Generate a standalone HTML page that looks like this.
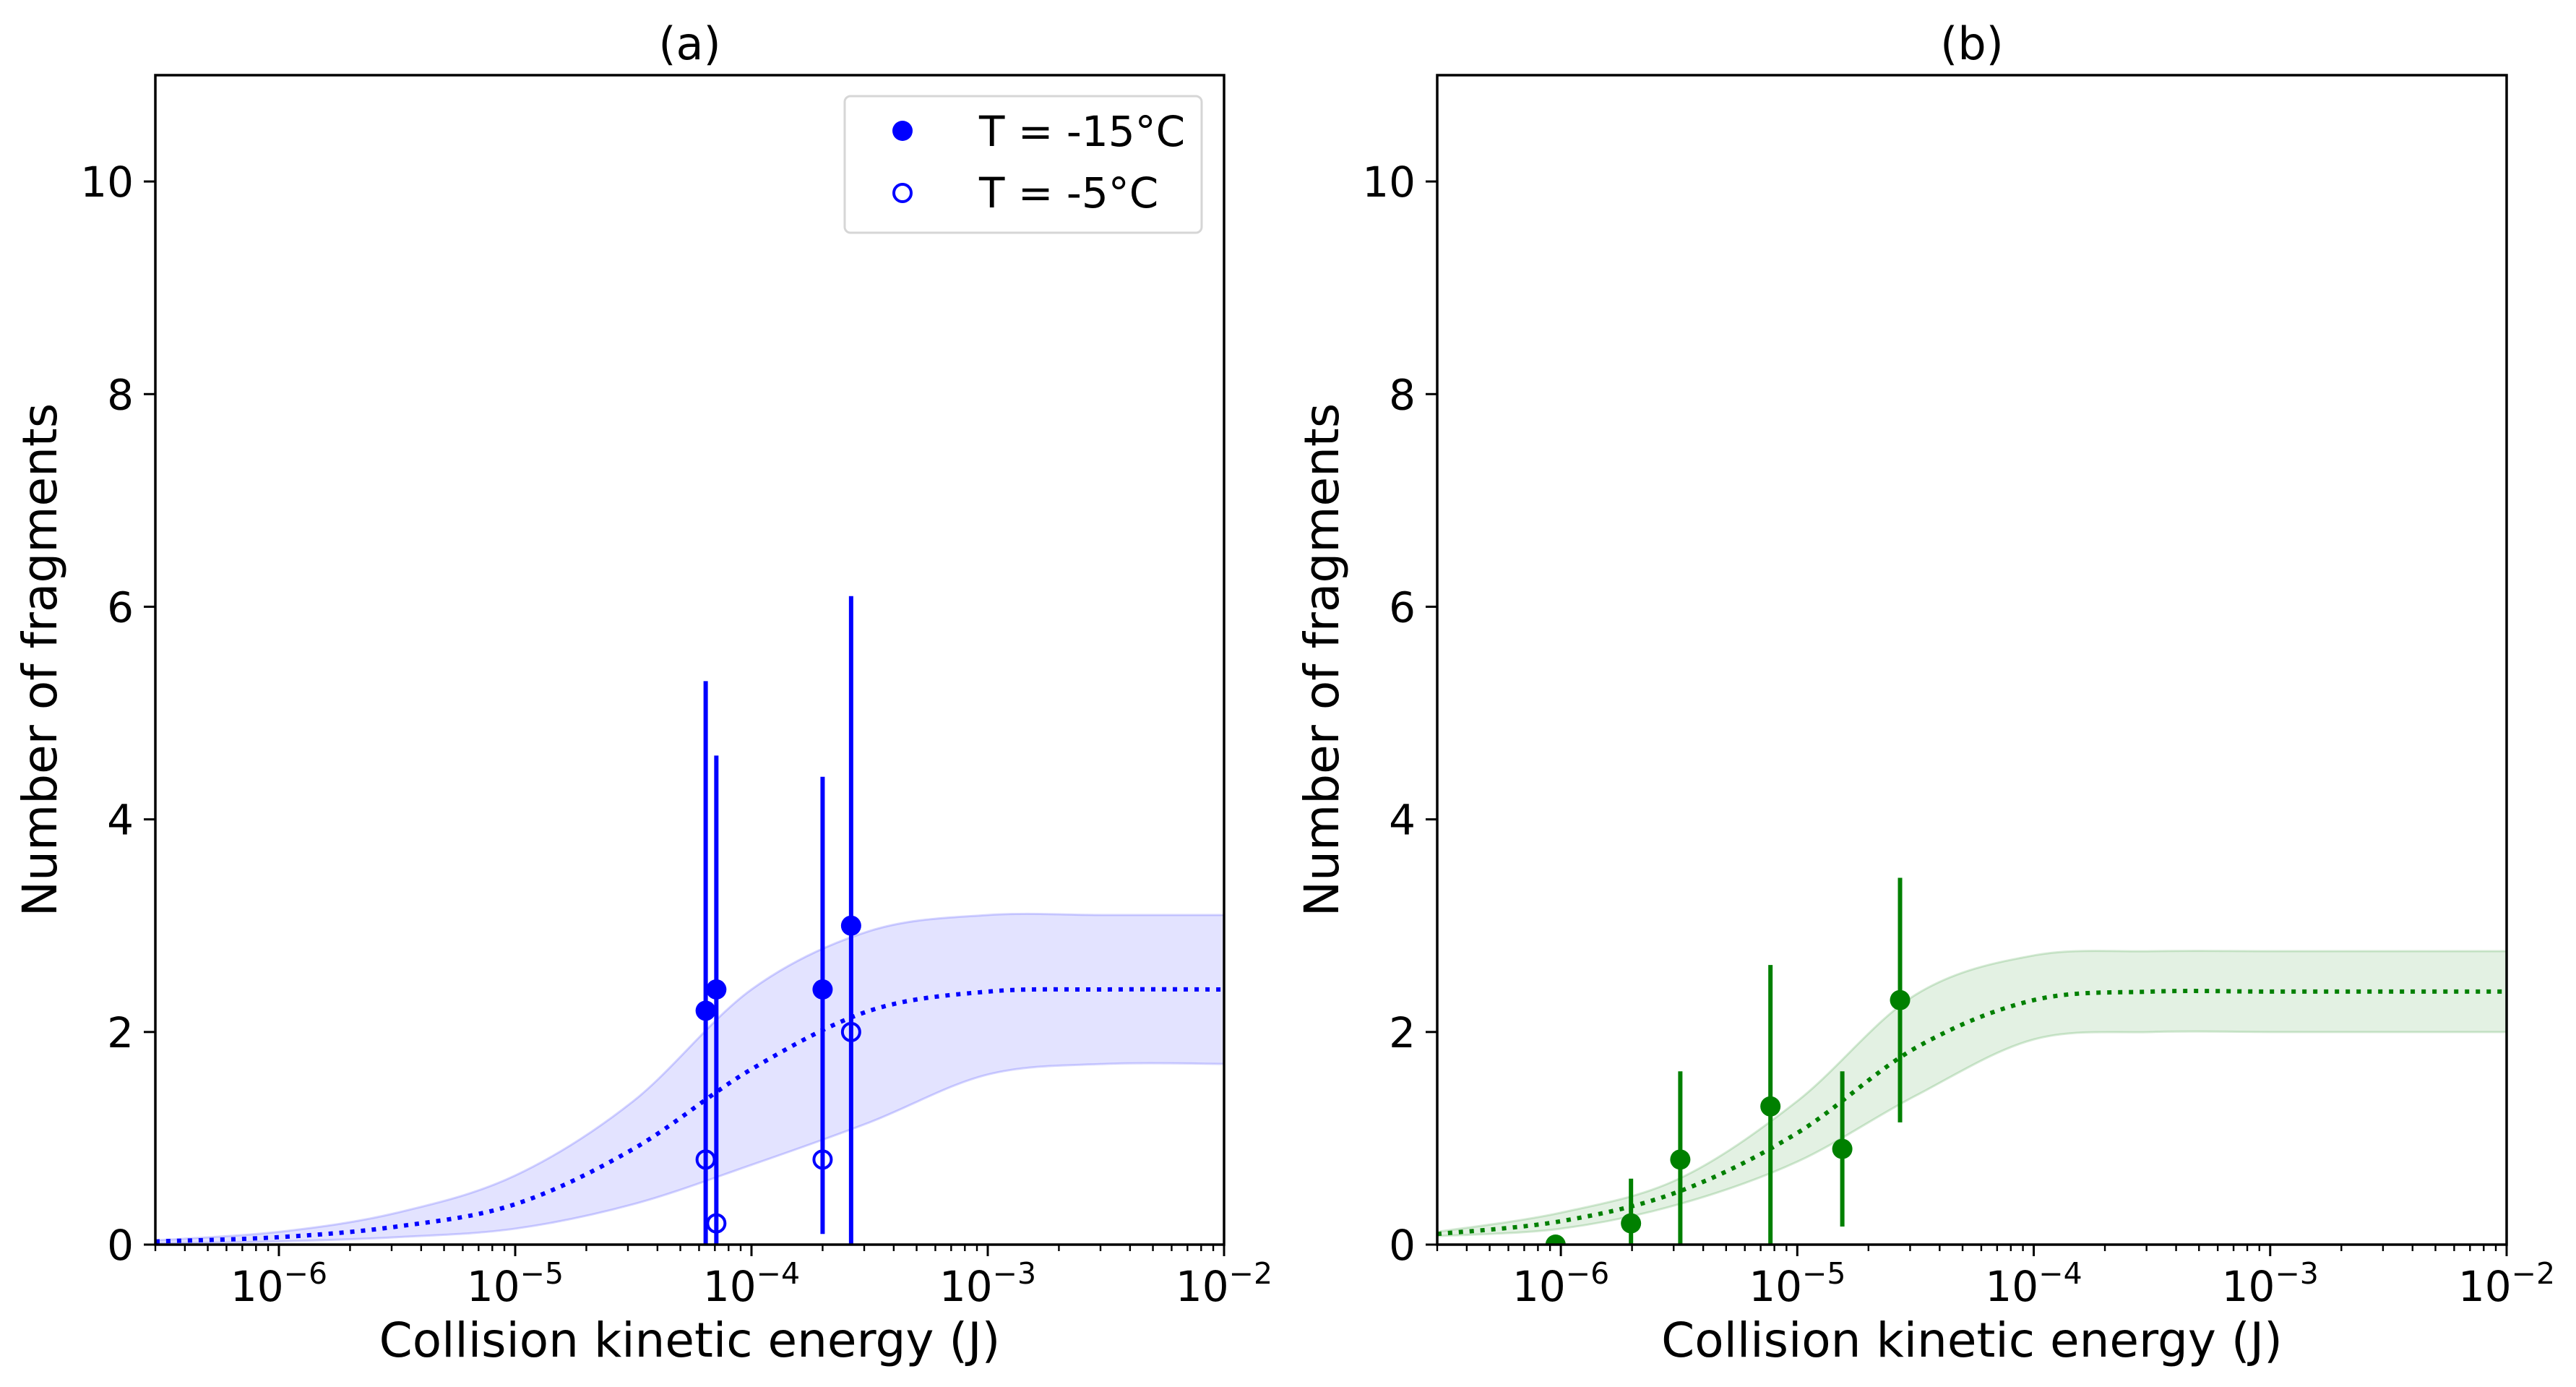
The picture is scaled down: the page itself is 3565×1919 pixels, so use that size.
<!DOCTYPE html>
<html><head><meta charset="utf-8"><style>
html,body{margin:0;padding:0;background:#fff;}
svg{display:block;font-family:"DejaVu Sans","Liberation Sans",sans-serif;}
</style></head><body>
<svg id="chart" width="3565" height="1919" viewBox="0 0 3565 1919" xmlns="http://www.w3.org/2000/svg"></svg>
<script>
// ---- data ----
const curveLogX = [-6.523,-6,-5.5,-5,-4.5,-4,-3.5,-3,-2.5,-2];
const meanA  = [0.03,0.07,0.17,0.38,0.9,1.65,2.2,2.38,2.4,2.4];
const upperA = [0.04,0.12,0.3,0.65,1.35,2.4,2.95,3.1,3.1,3.1];
const lowerA = [0.01,0.03,0.07,0.15,0.38,0.75,1.15,1.6,1.7,1.7];
const meanB  = [0.1,0.22,0.5,1.05,1.85,2.3,2.38,2.38,2.38,2.38];
const upperB = [0.12,0.3,0.62,1.35,2.35,2.72,2.76,2.76,2.76,2.76];
const lowerB = [0.08,0.15,0.38,0.78,1.4,1.93,2.0,2.0,2.0,2.0];

const coldX   = [6.4e-5,7.1e-5,2.0e-4,2.64e-4];
const coldY   = [2.2,2.4,2.4,3.0];
const coldLo  = [0,0,0.1,0];
const coldHi  = [5.3,4.6,4.4,6.1];
const warmX   = [6.4e-5,7.1e-5,2.0e-4,2.64e-4];
const warmY   = [0.8,0.2,0.8,2.0];

const bX  = [0.95e-6,1.98e-6,3.2e-6,7.7e-6,1.55e-5,2.72e-5];
const bY  = [0,0.2,0.8,1.3,0.9,2.3];
const bLo = [0,0,0,0,0.17,1.15];
const bHi = [0,0.62,1.63,2.63,1.63,3.45];

const yTicks = [0,2,4,6,8,10];
const xTickExp = [-6,-5,-4,-3,-2];

// ---- drawing ----
const NS="http://www.w3.org/2000/svg";
const svg=document.getElementById('chart');
function mk(tag,attrs,parent){const e=document.createElementNS(NS,tag);for(const k in attrs)e.setAttribute(k,attrs[k]);(parent||svg).appendChild(e);return e;}
const XMIN=Math.log10(3e-7), XMAX=-2, YMIN=0, YMAX=11;
const TOP=104, BOT=1722;

function spline(pts){
  let d=`M${pts[0][0]},${pts[0][1]}`;
  for(let i=0;i<pts.length-1;i++){
    const p0=pts[i-1]||pts[i],p1=pts[i],p2=pts[i+1],p3=pts[i+2]||p2;
    const c1=[p1[0]+(p2[0]-p0[0])/6,p1[1]+(p2[1]-p0[1])/6];
    const c2=[p2[0]-(p3[0]-p1[0])/6,p2[1]-(p3[1]-p1[1])/6];
    d+=` C${c1[0]},${c1[1]} ${c2[0]},${c2[1]} ${p2[0]},${p2[1]}`;
  }
  return d;
}

function panel(L,R,title,color,fillColor,fillOp,mean,upper,lower,key){
  const g=mk('g',{});
  
  
  const sx=lx=>L+(lx-XMIN)/(XMAX-XMIN)*(R-L);
  const sy=v=>BOT-(v-YMIN)/(YMAX-YMIN)*(BOT-TOP);
  const clip=mk('clipPath',{id:'clip'+key},g);
  mk('rect',{x:L,y:TOP,width:R-L,height:BOT-TOP},clip);
  const plot=mk('g',{'clip-path':`url(#clip${key})`},g);
  const up=curveLogX.map((lx,i)=>[sx(lx),sy(upper[i])]);
  const lo=curveLogX.map((lx,i)=>[sx(lx),sy(lower[i])]).reverse();
  let d=spline(up)+' L'+lo[0][0]+','+lo[0][1]+spline(lo).replace(/^M[^ C]+/,'')+' Z';
  const band=mk('path',{d:d,fill:fillColor,'fill-opacity':fillOp,stroke:fillColor,'stroke-opacity':fillOp*1.5,'stroke-width':3},plot);
  
  
  const mp=mk('path',{d:spline(curveLogX.map((lx,i)=>[sx(lx),sy(mean[i])])),fill:'none',stroke:color,'stroke-width':6,'stroke-dasharray':'6 9'},plot);
  
  
  const fr=mk('rect',{x:L,y:TOP,width:R-L,height:BOT-TOP,fill:'none',stroke:'#000','stroke-width':3.5},g);
  
  
  yTicks.forEach(v=>{
    const y=sy(v);
    mk('line',{x1:L-16,x2:L,y1:y,y2:y,stroke:'#000','stroke-width':3},g);
    const t=mk('text',{x:L-30,y:y+21,'text-anchor':'end','font-size':58},g);
    t.textContent=v;
    
    
  });
  for(let e=-7;e<=-2;e++){
    for(let m=1;m<10;m++){
      const lx=e+Math.log10(m);
      if(lx<XMIN-1e-9||lx>XMAX+1e-9)continue;
      const x=sx(lx);
      mk('line',{x1:x,x2:x,y1:BOT,y2:BOT+(m===1?16:9),stroke:'#000','stroke-width':m===1?3:2.4},g);
    }
  }
  xTickExp.forEach(e=>{
    const t=mk('text',{x:sx(e),y:1800,'text-anchor':'middle','font-size':58},g);
    
    
    t.appendChild(document.createTextNode('10'));
    const s=mk('tspan',{dy:-24,'font-size':41},t);
    s.textContent='\u2212'+(-e);
  });
  const xl=mk('text',{x:(L+R)/2,y:1877,'text-anchor':'middle','font-size':66},g);
  xl.textContent='Collision kinetic energy (J)';
  
  
  const yl=mk('text',{x:0,y:0,'text-anchor':'middle','font-size':66,transform:`translate(${L-137},${(TOP+BOT)/2}) rotate(-90)`},g);
  yl.textContent='Number of fragments';
  
  
  const tt=mk('text',{x:(L+R)/2,y:82,'text-anchor':'middle','font-size':62},g);
  tt.textContent=title;
  
  
  return {sx,sy,plot,g};
}

function errPoints(p,xs,ys,lo,hi,color,filled,name){
  xs.forEach((xv,i)=>{
    const x=p.sx(Math.log10(xv));
    if(lo && hi[i]>lo[i]){
      const el=mk('line',{x1:x,x2:x,y1:p.sy(lo[i]),y2:p.sy(hi[i]),stroke:color,'stroke-width':6},p.plot);
      
      
    }
    const c=mk('circle',{cx:x,cy:p.sy(ys[i]),r:filled?14:12,fill:filled?color:'none',stroke:color,'stroke-width':filled?0:4},p.plot);
    
    
  });
}

const pa=panel(215,1694,'(a)','#0000ff','#0000ff',0.11,meanA,upperA,lowerA,'a');
errPoints(pa,coldX,coldY,coldLo,coldHi,'#0000ff',true,'cold');
errPoints(pa,warmX,warmY,null,null,'#0000ff',false,'warm');
const pb=panel(1989,3469,'(b)','#008000','#008000',0.11,meanB,upperB,lowerB,'b');
errPoints(pb,bX,bY,bLo,bHi,'#008000',true,'green');

const lg=mk('g',{});


mk('rect',{x:1169,y:133,width:494,height:189,rx:8,fill:'#fff','fill-opacity':0.8,stroke:'#d6d6d6','stroke-width':3},lg);
const e1=mk('g',{},lg);


mk('circle',{cx:1249,cy:181,r:14,fill:'#0000ff'},e1);
const t1=mk('text',{x:1355,y:202,'font-size':58},e1);t1.textContent='T = -15°C';
const e2=mk('g',{},lg);


mk('circle',{cx:1249,cy:267,r:12,fill:'#fff',stroke:'#0000ff','stroke-width':4},e2);
const t2=mk('text',{x:1355,y:287,'font-size':58},e2);t2.textContent='T = -5°C';
</script>
</body></html>
